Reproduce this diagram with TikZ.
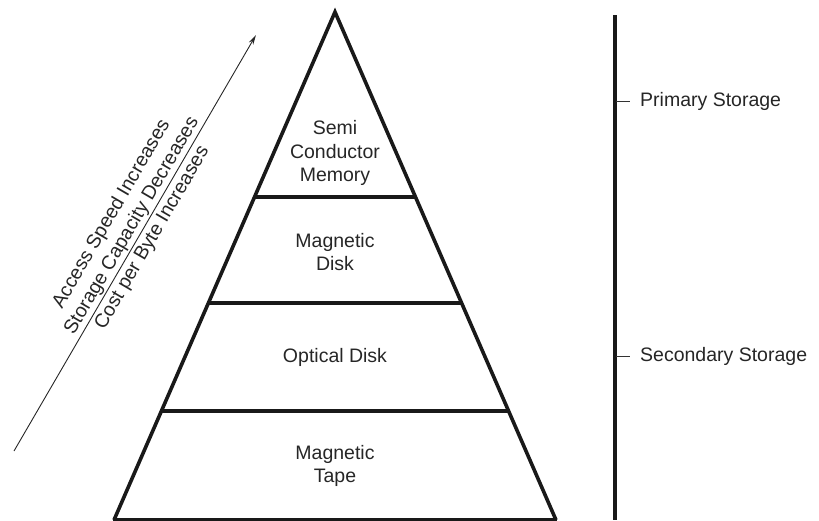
\documentclass[tikz,border=0pt]{standalone}
\usepackage{fontspec}
\setmainfont{Liberation Sans}
\usetikzlibrary{calc,arrows.meta}
\begin{document}
\begin{tikzpicture}[x=1pt,y=-1pt,
  thickline/.style={line width=3.6pt},
  lbl/.style={font=\fontsize{19.5}{23.5}\selectfont, align=center, inner sep=0pt, text=black!85},
  sidelbl/.style={font=\fontsize{19.5}{23.5}\selectfont, anchor=west, inner sep=0pt, text=black!85},
  tick/.style={line width=1pt, black!80}]
\useasboundingbox (0,0) rectangle (819,520);
% pyramid
\coordinate (apex) at (335,12);
\coordinate (bl) at (114,520);
\coordinate (br) at (556,520);
\draw[thickline, line join=miter, black!90] (bl) -- (apex) -- (br);
\draw[thickline, black!90] (113,519.5) -- (557,519.5);
% band separators
\coordinate (l1) at ($(apex)!0.3642!(bl)$);
\coordinate (r1) at ($(apex)!0.3642!(br)$);
\coordinate (l2) at ($(apex)!0.5728!(bl)$);
\coordinate (r2) at ($(apex)!0.5728!(br)$);
\coordinate (l3) at ($(apex)!0.7854!(bl)$);
\coordinate (r3) at ($(apex)!0.7854!(br)$);
\draw[thickline, black!90] (l1) -- (r1);
\draw[thickline, black!90] (l2) -- (r2);
\draw[thickline, black!90] (l3) -- (r3);
% labels
\node[lbl] (semi) at (335,153) {Semi\\Conductor\\Memory};
\node[lbl] (mdisk) at (335,252) {Magnetic\\Disk};
\node[lbl] (odisk) at (335,357) {Optical Disk};
\node[lbl] (mtape) at (335,466) {Magnetic\\Tape};
% arrow
\coordinate (as) at (14,451);
\coordinate (ae) at (256,35);
\draw[line width=0.9pt, black!85, -{Stealth[length=10pt,width=5pt]}] (as) -- (ae);
\node[lbl, rotate=59.8] (trend) at (132,226) {Access Speed Increases\\Storage Capacity Decreases\\Cost per Byte Increases};
% storage bar
\coordinate (bt) at (614.5,15);
\coordinate (bb) at (614.5,520);
\draw[line width=4pt, black!90] (bt) -- (bb);
\node[sidelbl] (prim) at (640,101) {Primary Storage};
\node[sidelbl] (sec) at (640,356) {Secondary Storage};
\coordinate (t1) at (616,101);
\coordinate (t2) at (616,356);
\draw[tick] (t1) -- ($(prim.west)+(-10,0)$);
\draw[tick] (t2) -- ($(sec.west)+(-10,0)$);
\end{tikzpicture}
\end{document}
